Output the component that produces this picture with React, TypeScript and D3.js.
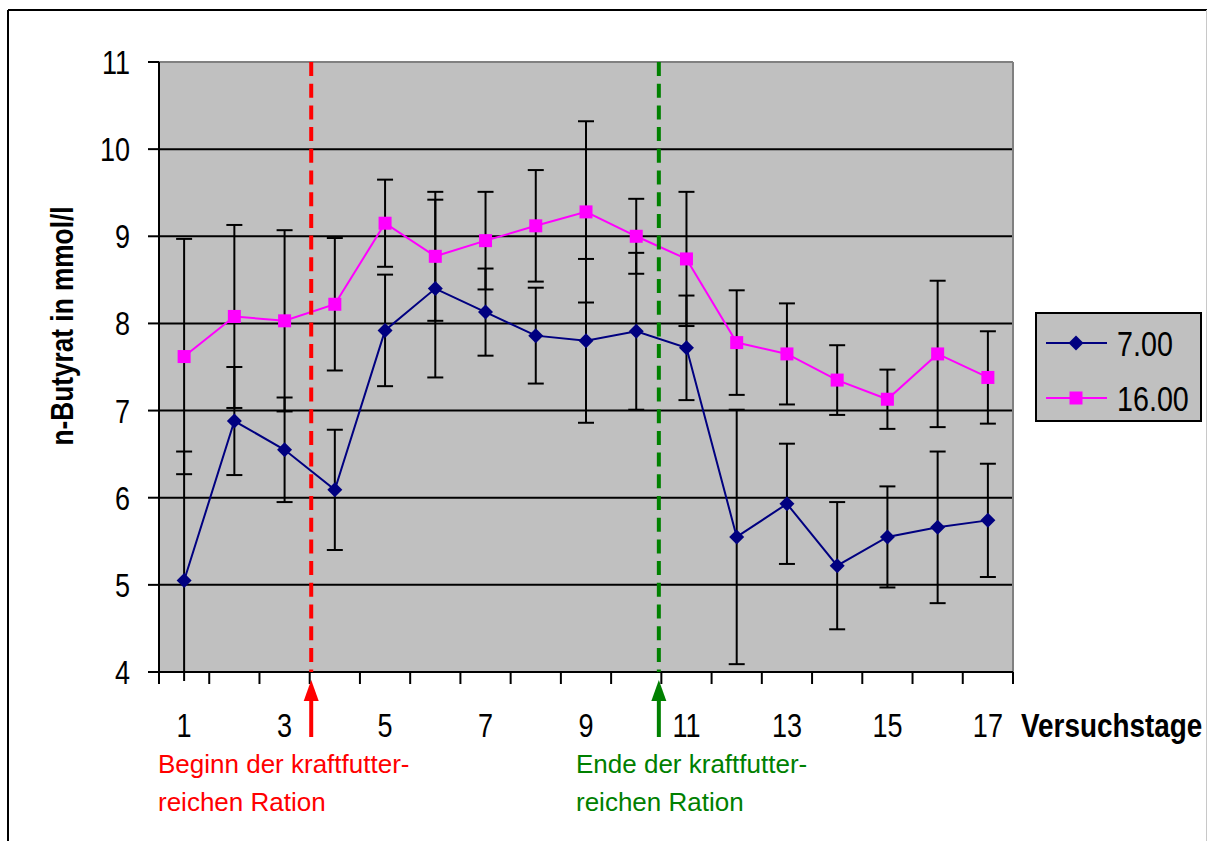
import React from "react";
import * as d3 from "d3";

const days = d3.range(1, 18);
const tickDays = [1, 3, 5, 7, 9, 11, 13, 15, 17];
const yTicks = [4, 5, 6, 7, 8, 9, 10, 11];
const seriesNames = ["7.00", "16.00"];
const morning = [5.05, 6.88, 6.55, 6.09, 7.92, 8.4, 8.13, 7.86, 7.8, 7.91, 7.72, 5.55, 5.93, 5.22, 5.55, 5.66, 5.74];
const morningSd = [1.48, 0.62, 0.6, 0.69, 0.64, 1.02, 0.5, 0.55, 0.94, 0.9, 0.6, 1.46, 0.69, 0.73, 0.58, 0.87, 0.65];
const afternoon = [7.62, 8.08, 8.03, 8.22, 9.15, 8.77, 8.95, 9.12, 9.28, 9.0, 8.74, 7.78, 7.65, 7.35, 7.13, 7.65, 7.38];
const afternoonSd = [1.35, 1.05, 1.04, 0.76, 0.5, 0.74, 0.56, 0.64, 1.04, 0.43, 0.77, 0.6, 0.58, 0.4, 0.34, 0.84, 0.53];
const markerStart = 3.53;
const markerEnd = 10.45;
const startText = ["Beginn der kraftfutter-", "reichen Ration"];
const endText = ["Ende der kraftfutter-", "reichen Ration"];
const yTitle = "n-Butyrat in mmol/l";
const xTitle = "Versuchstage";

const NAVY = "#000080";
const MAGENTA = "#ff00ff";
const FONT = "'Liberation Sans', Arial, sans-serif";

const L = 159, R = 1013, T = 62, B = 672;

function Narrow({ x, y, anchor = "start", size, weight = "normal", fill = "#000", rotate = 0, children }: any) {
  return (
    <g transform={`translate(${x},${y}) rotate(${rotate}) scale(0.82,1)`}>
      <text textAnchor={anchor} fontFamily={FONT} fontSize={size} fontWeight={weight} fill={fill}>
        {children}
      </text>
    </g>
  );
}

export default function App() {
  const x = d3.scaleLinear().domain([0.5, 17.5]).range([L, R]);
  const y = d3.scaleLinear().domain([4, 11]).range([B, T]);
  const line = d3.line<number>().x((_, i) => x(days[i])).y((v) => y(v));
  const boundaries = d3.range(0, 18).map((i) => i + 0.5);

  const series = [
    { name: seriesNames[0], vals: morning, sd: morningSd, color: NAVY, shape: "diamond" },
    { name: seriesNames[1], vals: afternoon, sd: afternoonSd, color: MAGENTA, shape: "square" },
  ];

  const marker = (shape: string, cx: number, cy: number, color: string, key?: any) =>
    shape === "diamond" ? (
      <path key={key} d={`M${cx},${cy - 7.5}L${cx + 7.5},${cy}L${cx},${cy + 7.5}L${cx - 7.5},${cy}Z`} fill={color} />
    ) : (
      <rect key={key} x={cx - 6.5} y={cy - 6.5} width={13} height={13} fill={color} />
    );

  const arrow = (xv: number, color: string) => {
    const cx = x(xv);
    return (
      <g>
        <line x1={cx} x2={cx} y1={698} y2={737} stroke={color} strokeWidth={4} />
        <path d={`M${cx},${680}L${cx + 7.5},${701}L${cx - 7.5},${701}Z`} fill={color} />
      </g>
    );
  };

  return (
    <svg width={1208} height={841} style={{ position: "absolute", left: 0, top: 0, background: "#fff" }}>
      <defs>
        <clipPath id="ebclip">
          <rect x={0} y={0} width={1208} height={681} />
        </clipPath>
      </defs>
      {/* outer frame */}
      <line x1={8} x2={8} y1={10} y2={841} stroke="#000" strokeWidth={2} />
      <line x1={8} x2={1207} y1={10} y2={10} stroke="#000" strokeWidth={2} />
      <line x1={1206.5} x2={1206.5} y1={10} y2={841} stroke="#c8c8c8" strokeWidth={1} />

      {/* plot area */}
      <rect x={L} y={T} width={R - L} height={B - T} fill="#c0c0c0" />
      {yTicks.filter((t) => t > 4 && t < 11).map((t) => (
        <line key={t} x1={L} x2={R} y1={y(t)} y2={y(t)} stroke="#000" strokeWidth={2} />
      ))}
      <line x1={L} x2={R} y1={T} y2={T} stroke="#808080" strokeWidth={2} />
      <line x1={R} x2={R} y1={T} y2={B} stroke="#808080" strokeWidth={2} />

      {/* axes */}
      <line x1={L} x2={L} y1={T} y2={B} stroke="#000" strokeWidth={2} />
      <line x1={L - 11} x2={R} y1={B} y2={B} stroke="#000" strokeWidth={2} />
      {yTicks.map((t) => (
        <g key={t}>
          <line x1={L - 11} x2={L} y1={y(t)} y2={y(t)} stroke="#000" strokeWidth={2} />
          <Narrow x={130} y={y(t) + 12} anchor="end" size={33}>{t}</Narrow>
        </g>
      ))}
      {boundaries.map((b) => (
        <line key={b} x1={x(b)} x2={x(b)} y1={B} y2={B + 12} stroke="#000" strokeWidth={2} />
      ))}
      {tickDays.map((d) => (
        <Narrow key={d} x={x(d)} y={737} anchor="middle" size={33}>{d}</Narrow>
      ))}
      <Narrow x={1021} y={737} size={34} weight="bold">{xTitle}</Narrow>
      <Narrow x={73} y={326} anchor="middle" size={32} weight="bold" rotate={-90}>{yTitle}</Narrow>

      {/* error bars */}
      <g clipPath="url(#ebclip)">
        {series.map((s) =>
          s.vals.map((v, i) => {
            const cx = x(days[i]);
            const y1 = y(v + s.sd[i]);
            const y2 = y(v - s.sd[i]);
            return (
              <g key={s.name + i} stroke="#000" strokeWidth={2}>
                <line x1={cx} x2={cx} y1={y1} y2={y2} />
                <line x1={cx - 8} x2={cx + 8} y1={y1} y2={y1} />
                <line x1={cx - 8} x2={cx + 8} y1={y2} y2={y2} />
              </g>
            );
          })
        )}
      </g>

      {/* series lines + markers */}
      {series.map((s) => (
        <g key={s.name}>
          <path d={line(s.vals) || ""} fill="none" stroke={s.color} strokeWidth={2} />
          {s.vals.map((v, i) => marker(s.shape, x(days[i]), y(v), s.color, i))}
        </g>
      ))}

      {/* phase lines */}
      <line x1={x(markerStart)} x2={x(markerStart)} y1={T} y2={B} stroke="#ff0000" strokeWidth={4} strokeDasharray="14 7.7" />
      <line x1={x(markerEnd)} x2={x(markerEnd)} y1={T} y2={B} stroke="#008000" strokeWidth={4} strokeDasharray="14 7.7" />
      {arrow(markerStart, "#ff0000")}
      {arrow(markerEnd, "#008000")}

      {startText.map((t, i) => (
        <text key={t} x={158} y={773 + i * 38} fontFamily={FONT} fontSize={26} fill="#ff0000">{t}</text>
      ))}
      {endText.map((t, i) => (
        <text key={t} x={576} y={773 + i * 38} fontFamily={FONT} fontSize={26} fill="#008000">{t}</text>
      ))}

      {/* legend */}
      <rect x={1036} y={313} width={165} height={108} fill="#c0c0c0" stroke="#000" strokeWidth={2} />
      {series.map((s, i) => {
        const ly = 343 + i * 55;
        return (
          <g key={s.name}>
            <line x1={1046} x2={1107} y1={ly} y2={ly} stroke={s.color} strokeWidth={2} />
            {marker(s.shape, 1076, ly, s.color)}
            <Narrow x={1117} y={ly + 12.5} size={35}>{s.name}</Narrow>
          </g>
        );
      })}
    </svg>
  );
}
